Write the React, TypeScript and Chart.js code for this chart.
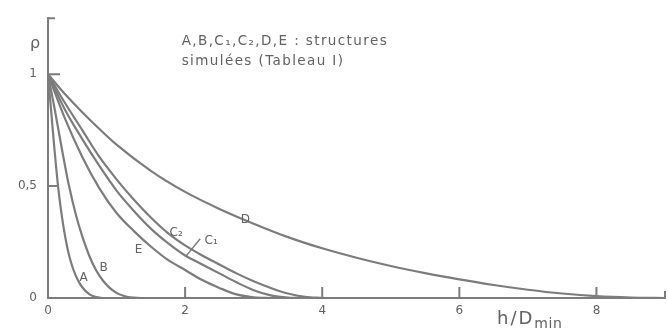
import { useEffect, useRef } from "react";
import { Chart, registerables } from "chart.js";

Chart.register(...registerables);

const INK = "#7c7c7c";
const TEXT = "#626262";
const FONT = "'DejaVu Sans', sans-serif";

// axis ticks
const xTicks = [0, 2, 4, 6, 8];
const xTickLabels = ["0", "2", "4", "6", "8"];
const yTicks = [0, 0.5, 1];
const yTickLabels = ["0", "0,5", "1"];

// rho(h/Dmin) for the simulated structures
const hA = [0, 0.05, 0.1, 0.15, 0.2, 0.25, 0.3, 0.35, 0.4, 0.45, 0.5, 0.6, 0.7, 0.8];
const rhoA = [1, 0.82, 0.645, 0.49, 0.37, 0.275, 0.2, 0.145, 0.103, 0.072, 0.048, 0.017, 0.004, 0];

const hB = [0, 0.1, 0.2, 0.3, 0.4, 0.5, 0.6, 0.7, 0.8, 0.9, 1.0, 1.1, 1.2, 1.35];
const rhoB = [1, 0.84, 0.67, 0.51, 0.38, 0.275, 0.19, 0.125, 0.078, 0.045, 0.023, 0.01, 0.003, 0];

const hE = [0, 0.25, 0.5, 0.75, 1, 1.25, 1.5, 1.75, 2, 2.25, 2.5, 2.75, 3, 3.25];
const rhoE = [1, 0.8, 0.63, 0.49, 0.38, 0.3, 0.23, 0.17, 0.125, 0.08, 0.045, 0.016, 0.003, 0];

const hC1 = [0, 0.25, 0.5, 0.75, 1, 1.25, 1.5, 1.75, 2, 2.25, 2.5, 2.75, 3, 3.25, 3.5, 3.75];
const rhoC1 = [1, 0.84, 0.71, 0.59, 0.48, 0.39, 0.31, 0.245, 0.19, 0.15, 0.11, 0.07, 0.035, 0.012, 0.002, 0];

const hC2 = [0, 0.25, 0.5, 0.75, 1, 1.25, 1.5, 1.75, 2, 2.25, 2.5, 2.75, 3, 3.25, 3.5, 3.75, 4];
const rhoC2 = [1, 0.87, 0.75, 0.63, 0.53, 0.44, 0.36, 0.29, 0.235, 0.19, 0.15, 0.11, 0.075, 0.045, 0.02, 0.005, 0];

const hD = [0, 0.25, 0.5, 0.75, 1, 1.5, 2, 2.5, 3, 3.5, 4, 4.5, 5, 5.5, 6, 6.5, 7, 7.5, 8, 8.5, 9];
const rhoD = [1, 0.91, 0.83, 0.755, 0.685, 0.568, 0.474, 0.398, 0.332, 0.272, 0.222, 0.18, 0.143, 0.111, 0.083, 0.058, 0.037, 0.02, 0.008, 0.002, 0];

// curve labels, placed in data coordinates
const curveLabels: [string, number, number][] = [
  ["A", 0.52, 0.091],
  ["B", 0.81, 0.135],
  ["E", 1.32, 0.217],
  ["C₂", 1.87, 0.292],
  ["C₁", 2.38, 0.257],
  ["D", 2.88, 0.35],
];
const c1Leader: [number, number][] = [
  [2.01, 0.186],
  [2.22, 0.265],
];

const pts = (xs: number[], ys: number[]) => xs.map((x, i) => ({ x, y: ys[i] }));

const decorations = {
  id: "decorations",
  afterDraw(chart: Chart) {
    const ctx = chart.ctx as CanvasRenderingContext2D & { letterSpacing?: string };
    const xs = chart.scales.x;
    const ys = chart.scales.y;
    const x0 = xs.getPixelForValue(0);
    const y0 = ys.getPixelForValue(0);
    ctx.save();
    ctx.strokeStyle = INK;
    ctx.lineWidth = 2;
    ctx.lineCap = "butt";
    // inward tick marks
    ctx.beginPath();
    [2, 4, 6, 8].forEach((v) => {
      const px = xs.getPixelForValue(v);
      ctx.moveTo(px, y0);
      ctx.lineTo(px, y0 - 11);
    });
    const xEnd = xs.getPixelForValue(9);
    ctx.moveTo(xEnd, y0);
    ctx.lineTo(xEnd, y0 - 7);
    [
      [0.5, 9],
      [1, 12],
      [1.25, 7],
    ].forEach(([v, len]) => {
      const py = ys.getPixelForValue(v);
      ctx.moveTo(x0, py);
      ctx.lineTo(x0 + len, py);
    });
    ctx.stroke();

    // curve names
    ctx.fillStyle = TEXT;
    ctx.font = `12px ${FONT}`;
    ctx.textAlign = "center";
    ctx.textBaseline = "middle";
    curveLabels.forEach(([t, x, y]) => {
      ctx.fillText(t, xs.getPixelForValue(x), ys.getPixelForValue(y));
    });
    ctx.lineWidth = 1.5;
    ctx.beginPath();
    ctx.moveTo(xs.getPixelForValue(c1Leader[0][0]), ys.getPixelForValue(c1Leader[0][1]));
    ctx.lineTo(xs.getPixelForValue(c1Leader[1][0]), ys.getPixelForValue(c1Leader[1][1]));
    ctx.stroke();

    // legend note
    ctx.textAlign = "left";
    ctx.font = `13.5px ${FONT}`;
    ctx.letterSpacing = "1.4px";
    const noteX = xs.getPixelForValue(1.95);
    ctx.fillText("A,B,C₁,C₂,D,E : structures", noteX, ys.getPixelForValue(1.147));
    ctx.fillText("simulées (Tableau I)", noteX, ys.getPixelForValue(1.058));

    // y axis symbol
    ctx.letterSpacing = "0px";
    ctx.textAlign = "center";
    ctx.font = `16px ${FONT}`;
    ctx.fillText("ρ", x0 - 13, ys.getPixelForValue(1.135));

    // x axis title with subscript
    ctx.textAlign = "left";
    ctx.textBaseline = "alphabetic";
    const tx = xs.getPixelForValue(6.55);
    ctx.font = `18px ${FONT}`;
    ctx.letterSpacing = "2px";
    ctx.fillText("h/D", tx, y0 + 26);
    const w = ctx.measureText("h/D").width;
    ctx.font = `14px ${FONT}`;
    ctx.letterSpacing = "0.5px";
    ctx.fillText("min", tx + w, y0 + 30);
    ctx.restore();
  },
};

export default function App() {
  const ref = useRef<HTMLCanvasElement | null>(null);

  useEffect(() => {
    if (!ref.current) return;
    const mk = (data: { x: number; y: number }[]) => ({
      data,
      borderColor: INK,
      borderWidth: 2.2,
      pointRadius: 0,
      fill: false,
      tension: 0.4,
      cubicInterpolationMode: "monotone" as const,
    });
    const chart = new Chart(ref.current, {
      type: "line",
      data: {
        datasets: [
          mk(pts(hA, rhoA)),
          mk(pts(hB, rhoB)),
          mk(pts(hE, rhoE)),
          mk(pts(hC1, rhoC1)),
          mk(pts(hC2, rhoC2)),
          mk(pts(hD, rhoD)),
        ],
      },
      options: {
        animation: false,
        responsive: false,
        events: [],
        layout: { padding: { top: 15, right: 3, left: 0, bottom: 0 } },
        plugins: { legend: { display: false }, tooltip: { enabled: false } },
        scales: {
          x: {
            type: "linear",
            min: 0,
            max: 9,
            afterFit: (s: any) => {
              s.height = 30;
            },
            afterBuildTicks: (s: any) => {
              s.ticks = xTicks.map((v) => ({ value: v }));
            },
            grid: { display: false, drawTicks: false },
            border: { display: true, color: INK, width: 2 },
            ticks: {
              padding: 6,
              color: TEXT,
              font: { family: FONT, size: 12 },
              maxRotation: 0,
              callback: (v: any) => xTickLabels[xTicks.indexOf(Number(v))] ?? "",
            },
          },
          y: {
            type: "linear",
            min: 0,
            max: 1.25,
            afterFit: (s: any) => {
              s.width = 48;
            },
            afterBuildTicks: (s: any) => {
              s.ticks = yTicks.map((v) => ({ value: v }));
            },
            grid: { display: false, drawTicks: false },
            border: { display: true, color: INK, width: 2 },
            ticks: {
              padding: 11,
              color: TEXT,
              font: { family: FONT, size: 12 },
              callback: (v: any) => yTickLabels[yTicks.indexOf(Number(v))] ?? "",
            },
          },
        },
      },
      plugins: [decorations],
    });
    return () => chart.destroy();
  }, []);

  return (
    <div style={{ position: "fixed", left: 0, top: 0, width: 668, height: 328, background: "#fff" }}>
      <canvas ref={ref} width={668} height={328} />
    </div>
  );
}
